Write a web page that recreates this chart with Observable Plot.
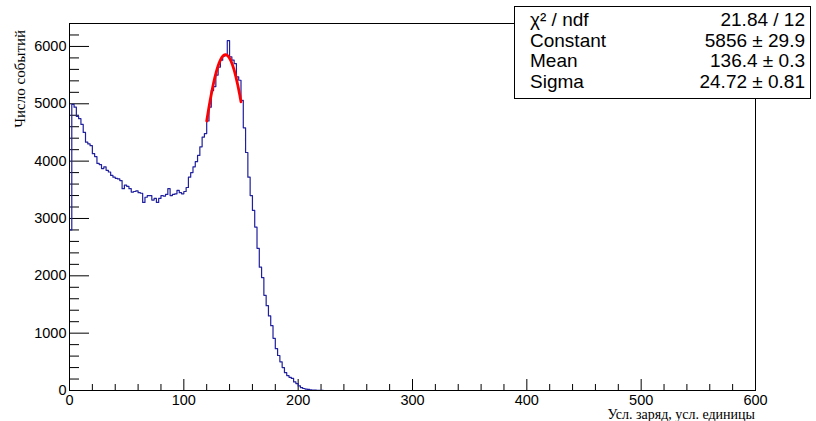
<!DOCTYPE html>
<html>
<head>
<meta charset="utf-8">
<script src="https://cdn.jsdelivr.net/npm/d3@7"></script>
<script src="https://cdn.jsdelivr.net/npm/@observablehq/plot@0.6"></script>
<style>
  html, body { margin: 0; padding: 0; background: #fff; }
  #chart svg { display: block; }
</style>
</head>
<body>
<div id="chart"></div>
<script>
// Histogram: 300 bins of width 2 over [0, 600]; only non-empty bins listed (0..222)
const binWidth = 2;
const xMin = 0;
const counts = [
  2800, 4990, 4940, 4780, 4740, 4640, 4500, 4330, 4300, 4270,
  4130, 4080, 3960, 3940, 3870, 3900, 3840, 3810, 3750, 3720,
  3700, 3690, 3660, 3520, 3580, 3560, 3520, 3460, 3470, 3480,
  3450, 3440, 3280, 3370, 3400, 3400, 3320, 3350, 3280, 3350,
  3400, 3390, 3420, 3520, 3400, 3420, 3430, 3490, 3450, 3430,
  3470, 3540, 3720, 3800, 3900, 3990, 4100, 4250, 4420, 4480,
  4700, 4940, 5230, 5300, 5500, 5640, 5760, 5830, 5850, 6100,
  5820, 5760, 5700, 5470, 5410, 5060, 4580, 4150, 3720, 3400,
  3140, 2850, 2480, 2150, 1970, 1660, 1480, 1300, 1130, 910,
  730, 610, 500, 400, 310, 260, 230, 210, 150, 120,
  80, 50, 35, 25, 18, 12, 8, 5, 3, 2,
  1
];

// Gaussian fit parameters (stats box)
const fitConstant = 5856;
const fitMean = 136.4;
const fitSigma = 24.72;
const fitRange = [120, 150];

const statsLabels = ["χ² / ndf", "Constant", "Mean", "Sigma"];
const statsValues = ["21.84 / 12", "5856 ± 29.9", "136.4 ± 0.3", "24.72 ± 0.81"];

const xTicks = [0, 100, 200, 300, 400, 500, 600];
const yTicks = [0, 1000, 2000, 3000, 4000, 5000, 6000];
const xMinorStep = 20;
const yMinorStep = 200;
const xDomain = [0, 600];
const yDomain = [0, 6400];

const xLabel = "Усл. заряд, усл. единицы";
const yLabel = "Число событий";

// build tables
const hist = counts.map((c, i) => ({x: xMin + i * binWidth, y: c}));
hist.push({x: xMin + counts.length * binWidth, y: counts[counts.length - 1]});
hist.push({x: xMin + counts.length * binWidth, y: 0});

const fit = d3.range(fitRange[0], fitRange[1] + 0.001, 0.25).map(x => ({
  x, y: fitConstant * Math.exp(-0.5 * ((x - fitMean) / fitSigma) ** 2)
}));

const xMinor = d3.range(xDomain[0], xDomain[1] + 0.001, xMinorStep).filter(v => !xTicks.includes(v));
const yMinor = d3.range(yDomain[0], yDomain[1] + 0.001, yMinorStep).filter(v => !yTicks.includes(v));

const W = 816, H = 421;
const mL = 69, mR = 61, mT = 23, mB = 31;
const fw = W - mL - mR, fh = H - mT - mB;

const chart = Plot.plot({
  width: W,
  height: H,
  marginLeft: mL,
  marginRight: mR,
  marginTop: mT,
  marginBottom: mB,
  style: {fontFamily: "'Liberation Sans', Arial, sans-serif", fontSize: "14.5px", background: "#fff", color: "#000"},
  x: {domain: xDomain, label: null},
  y: {domain: yDomain, label: null},
  marks: [
    Plot.ruleY(yTicks, {stroke: "#000", strokeWidth: 1, insetRight: fw - 20}),
    Plot.ruleY(yMinor, {stroke: "#000", strokeWidth: 1, insetRight: fw - 10}),
    Plot.ruleX(xTicks, {stroke: "#000", strokeWidth: 1, insetTop: fh - 11}),
    Plot.ruleX(xMinor, {stroke: "#000", strokeWidth: 1, insetTop: fh - 6}),
    Plot.line(hist, {x: "x", y: "y", curve: "step-after", stroke: "#1f1fa0", strokeWidth: 1.2}),
    Plot.line(fit, {x: "x", y: "y", stroke: "#ff0000", strokeWidth: 2.8}),
    Plot.frame({stroke: "#000", strokeWidth: 1}),
    Plot.axisY(yTicks, {tickSize: 0, tickPadding: 3, fontSize: 14.5, label: null, tickFormat: d => String(d)}),
    Plot.axisX(xTicks, {tickSize: 0, tickPadding: 4, fontSize: 14.5, label: null, tickFormat: d => String(d)})
  ]
});

document.getElementById("chart").appendChild(chart);

const svg = d3.select(chart);
const serif = "'Liberation Serif', 'DejaVu Serif', serif";

// Axis titles
svg.append("text")
  .attr("x", W - mR).attr("y", 418.5)
  .attr("text-anchor", "end")
  .attr("font-family", serif).attr("font-size", 14)
  .attr("fill", "#000")
  .text(xLabel);
svg.append("text")
  .attr("transform", "translate(25,30) rotate(-90)")
  .attr("text-anchor", "end")
  .attr("font-family", serif).attr("font-size", 15)
  .attr("fill", "#000")
  .text(yLabel);

// Stats box
const box = svg.append("g")
  .attr("font-family", "'Liberation Sans', Arial, sans-serif")
  .attr("font-size", 19)
  .attr("text-anchor", "start");
box.append("rect")
  .attr("x", 514.5).attr("y", 6.5).attr("width", 296).attr("height", 92)
  .attr("fill", "#fff").attr("stroke", "#000").attr("stroke-width", 1);
const baselines = [26, 46.5, 67, 87.5];
statsLabels.forEach((t, i) => {
  box.append("text").attr("x", 530).attr("y", baselines[i]).attr("text-anchor", "start").attr("fill", "#000").text(t);
  box.append("text").attr("x", 805).attr("y", baselines[i]).attr("text-anchor", "end").attr("fill", "#000").text(statsValues[i]);
});
</script>
</body>
</html>
